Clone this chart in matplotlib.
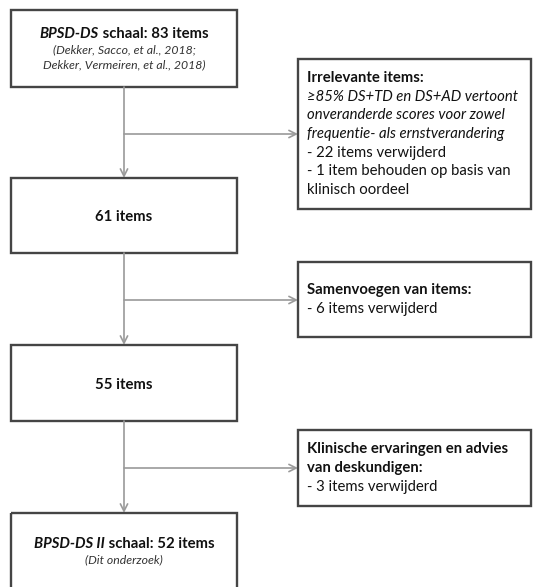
import matplotlib
matplotlib.use("Agg")
import matplotlib.pyplot as plt
from matplotlib.patches import Rectangle

plt.rcParams['font.family'] = ['Lato', 'DejaVu Sans']

# main flow boxes (left column): top, bottom in pixels
main_tops = [10, 178, 345, 513]
main_bottoms = [87, 253, 421, 600]
main_titles = [("BPSD-DS", " schaal: 83 items"), ("", "61 items"), ("", "55 items"), ("BPSD-DS II", " schaal: 52 items")]
main_title_y = [34, 217, 385, 544]
main_notes = [["(Dekker, Sacco, et al., 2018;", "Dekker, Vermeiren, et al., 2018)"], [], [], ["(Dit onderzoek)"]]

# side boxes (right column)
side_tops = [59, 262, 430]
side_bottoms = [209, 337, 506]
side_arrow_y = [134, 300, 468]
side_lines = [
    [("Irrelevante items:", "bold", "normal"),
     ("\u226585% DS+TD en DS+AD vertoont", "normal", "italic"),
     ("onveranderde scores voor zowel", "normal", "italic"),
     ("frequentie- als ernstverandering", "normal", "italic"),
     ("- 22 items verwijderd", "normal", "normal"),
     ("- 1 item behouden op basis van", "normal", "normal"),
     ("klinisch oordeel", "normal", "normal")],
    [("Samenvoegen van items:", "bold", "normal"),
     ("- 6 items verwijderd", "normal", "normal")],
    [("Klinische ervaringen en advies", "bold", "normal"),
     ("van deskundigen:", "bold", "normal"),
     ("- 3 items verwijderd", "normal", "normal")],
]

W, H = 533, 587
fig = plt.figure(figsize=(W / 100, H / 100), dpi=100)
ax = fig.add_axes([0, 0, 1, 1])
ax.set_xlim(0, W)
ax.set_ylim(H, 0)
ax.axis("off")

left_x0, left_x1 = 11, 237
cx = (left_x0 + left_x1) / 2
side_x0, side_x1 = 298, 531
edge = "#454545"
line_c = "#9a9a9a"
fs = 10.7

for t, b in zip(main_tops, main_bottoms):
    ax.add_patch(Rectangle((left_x0, t), left_x1 - left_x0, b - t, fill=False,
                           edgecolor=edge, lw=1.7, zorder=3))
for t, b in zip(side_tops, side_bottoms):
    ax.add_patch(Rectangle((side_x0, t), side_x1 - side_x0, b - t, fill=False,
                           edgecolor=edge, lw=1.7, zorder=3))

# vertical connectors with arrows
for i in range(3):
    ax.annotate("", xy=(cx, main_tops[i + 1]), xytext=(cx, main_bottoms[i]),
                arrowprops=dict(arrowstyle="->", color=line_c, lw=1.2,
                                mutation_scale=13, shrinkA=0, shrinkB=0))
# side arrows
for y in side_arrow_y:
    ax.annotate("", xy=(side_x0, y), xytext=(cx, y),
                arrowprops=dict(arrowstyle="->", color=line_c, lw=1.2,
                                mutation_scale=13, shrinkA=0, shrinkB=0))

fig.canvas.draw()
renderer = fig.canvas.get_renderer()

# main titles: italic part + normal part, centred together
for (it, rest), y, notes in zip(main_titles, main_title_y, main_notes):
    t1 = ax.text(0, y, it, fontsize=fs, fontweight="bold", fontstyle="italic",
                 va="center", ha="left", color="#111111")
    t2 = ax.text(0, y, rest, fontsize=fs, fontweight="bold",
                 va="center", ha="left", color="#111111")
    w1 = t1.get_window_extent(renderer).width if it else 0
    w2 = t2.get_window_extent(renderer).width
    start = cx - (w1 + w2) / 2
    t1.set_x(start)
    t2.set_x(start + w1)
    for k, n in enumerate(notes):
        ax.text(cx, y + 16 + 15 * k, n, fontsize=8.8, fontstyle="italic",
                ha="center", va="center", color="#333333")

# side box texts
for lines, t, b in zip(side_lines, side_tops, side_bottoms):
    n = len(lines)
    step = 18.7
    y0 = (t + b) / 2 - step * (n - 1) / 2
    for k, (txt, wt, st) in enumerate(lines):
        ax.text(side_x0 + 9, y0 + step * k, txt, fontsize=fs, fontweight=wt,
                fontstyle=st, ha="left", va="center", color="#111111")

fig.savefig("out.png", dpi=100)
